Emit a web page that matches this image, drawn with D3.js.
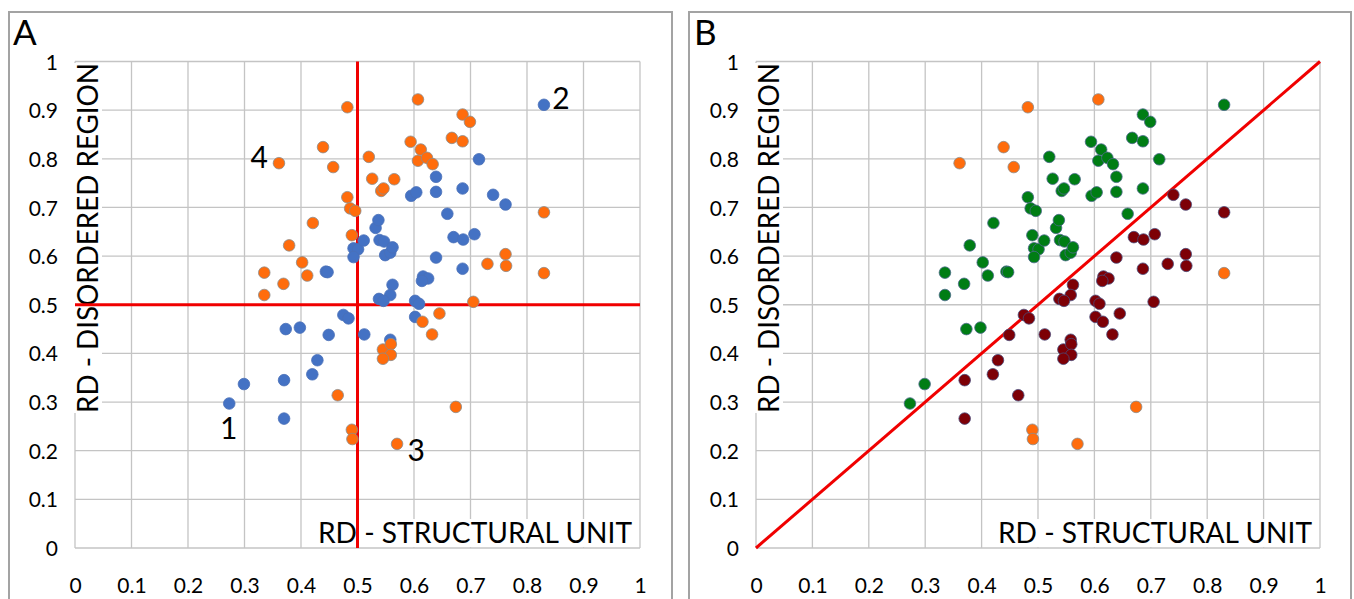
<!DOCTYPE html>
<html>
<head>
<meta charset="utf-8">
<script src="https://cdn.jsdelivr.net/npm/d3@7"></script>
<style>
  html, body { margin: 0; padding: 0; background: #fff; }
  svg { display: block; }
  text { font-family: Lato, "Open Sans", sans-serif; fill: #000; }
</style>
</head>
<body>
<svg id="chart" width="1354" height="599"></svg>
<script>
// ---------------- DATA ----------------
const xTicks = [0, 0.1, 0.2, 0.3, 0.4, 0.5, 0.6, 0.7, 0.8, 0.9, 1];
const yTicks = [0, 0.1, 0.2, 0.3, 0.4, 0.5, 0.6, 0.7, 0.8, 0.9, 1];
const xTickLabels = ["0", "0.1", "0.2", "0.3", "0.4", "0.5", "0.6", "0.7", "0.8", "0.9", "1"];
const yTickLabels = ["0", "0.1", "0.2", "0.3", "0.4", "0.5", "0.6", "0.7", "0.8", "0.9", "1"];

// RD - structural unit (x) and RD - disordered region (y)
const rdStructural = [
  0.273, 0.299, 0.370, 0.370, 0.373, 0.398, 0.420, 0.429, 0.444, 0.447,
  0.449, 0.475, 0.484, 0.493, 0.501, 0.493, 0.511, 0.512, 0.532, 0.537,
  0.539, 0.547, 0.549, 0.558, 0.562, 0.562, 0.558, 0.538, 0.546, 0.558,
  0.595, 0.604, 0.602, 0.609, 0.602, 0.616, 0.625, 0.614, 0.639, 0.639,
  0.639, 0.659, 0.670, 0.687, 0.707, 0.686, 0.686, 0.715, 0.740, 0.762,
  0.830,
  0.335, 0.335, 0.361, 0.369, 0.379, 0.402, 0.411, 0.421, 0.439, 0.457,
  0.465, 0.482, 0.482, 0.487, 0.496, 0.490, 0.490, 0.491, 0.520, 0.526,
  0.542, 0.546, 0.565, 0.545, 0.559, 0.559, 0.545, 0.570, 0.594, 0.607,
  0.607, 0.612, 0.623, 0.633, 0.615, 0.632, 0.645, 0.667, 0.686, 0.686,
  0.699, 0.674, 0.705, 0.730, 0.762, 0.763, 0.830, 0.830
];
const rdDisordered = [
  0.297, 0.337, 0.345, 0.266, 0.450, 0.453, 0.357, 0.386, 0.568, 0.567,
  0.438, 0.479, 0.472, 0.616, 0.614, 0.598, 0.632, 0.439, 0.658, 0.674,
  0.633, 0.630, 0.602, 0.607, 0.618, 0.541, 0.520, 0.512, 0.508, 0.428,
  0.724, 0.731, 0.508, 0.502, 0.475, 0.558, 0.554, 0.549, 0.597, 0.763,
  0.732, 0.687, 0.639, 0.634, 0.645, 0.739, 0.574, 0.799, 0.726, 0.706,
  0.911,
  0.566, 0.520, 0.791, 0.543, 0.622, 0.587, 0.560, 0.668, 0.824, 0.783,
  0.314, 0.906, 0.721, 0.698, 0.693, 0.643, 0.243, 0.224, 0.804, 0.759,
  0.734, 0.739, 0.758, 0.408, 0.419, 0.397, 0.389, 0.214, 0.835, 0.922,
  0.796, 0.819, 0.802, 0.789, 0.465, 0.439, 0.482, 0.843, 0.836, 0.891,
  0.876, 0.290, 0.506, 0.584, 0.604, 0.580, 0.690, 0.565
];
// Panel A grouping: "b" = blue series, "o" = orange series
const groupA = [
  "b","b","b","b","b","b","b","b","b","b","b","b","b","b","b","b","b","b","b","b",
  "b","b","b","b","b","b","b","b","b","b","b","b","b","b","b","b","b","b","b","b",
  "b","b","b","b","b","b","b","b","b","b","b",
  "o","o","o","o","o","o","o","o","o","o","o","o","o","o","o","o","o","o","o","o",
  "o","o","o","o","o","o","o","o","o","o","o","o","o","o","o","o","o","o","o","o",
  "o","o","o","o","o","o","o","o"
];
// Panel B grouping: "g" = green, "r" = dark red, "o" = orange
const groupB = [
  "g","g","r","r","g","g","r","r","g","g",
  "r","r","r","g","g","g","g","r","g","g",
  "g","g","g","g","g","r","r","r","r","r",
  "g","g","r","r","r","r","r","r","r","g",
  "g","g","r","r","r","g","r","g","r","r",
  "g",
  "g","g","o","g","g","g","g","g","o","o",
  "r","o","g","g","g","g","o","o","g","g",
  "g","g","g","r","r","r","r","o","g","o",
  "g","g","g","g","r","r","r","g","g","g",
  "g","o","r","r","r","r","r","o"
];
const panelLetters = ["A", "B"];
const xTitle = "RD - STRUCTURAL UNIT";
const yTitle = "RD - DISORDERED REGION";
// Numbered annotations in panel A (data coordinates of label centre)
const annoText = ["1", "2", "3", "4"];
const annoX = [0.272, 0.860, 0.604, 0.326];
const annoY = [0.246, 0.925, 0.201, 0.804];

// ---------------- DRAW ----------------
const svg = d3.select("#chart");
const colorsA = { b: "#4472c4", o: "#ff6c0c" };
const strokeA = { b: "#4a70b8", o: "#8c8c8c" };
const colorsB = { g: "#007d14", r: "#7d0006", o: "#ff6c0c" };
const strokeB = { g: "#4a6a8a", r: "#4a4a7a", o: "#8c8c8c" };

const panels = [
  { letter: panelLetters[0], box: [9, 12, 672, 620], x0: 75, x1: 640, letterX: 13 },
  { letter: panelLetters[1], box: [689, 12, 1351, 620], x0: 756, x1: 1320, letterX: 694 }
];
const yTop = 61.5, yBot = 548;

const idx = d3.range(rdStructural.length);

panels.forEach((p, pi) => {
  const g = svg.append("g");
  g.append("rect")
    .attr("x", p.box[0]).attr("y", p.box[1])
    .attr("width", p.box[2] - p.box[0]).attr("height", p.box[3] - p.box[1])
    .attr("fill", "#fff").attr("stroke", "#a3a3a3").attr("stroke-width", 2);

  const x = d3.scaleLinear().domain([0, 1]).range([p.x0, p.x1]);
  const y = d3.scaleLinear().domain([0, 1]).range([yBot, yTop]);

  // grid
  g.append("g").selectAll("line.v").data(xTicks).join("line")
    .attr("x1", d => x(d)).attr("x2", d => x(d))
    .attr("y1", yTop).attr("y2", yBot)
    .attr("stroke", "#c4c4c4").attr("stroke-width", 1.3);
  g.append("g").selectAll("line.h").data(yTicks).join("line")
    .attr("x1", p.x0).attr("x2", p.x1)
    .attr("y1", d => y(d)).attr("y2", d => y(d))
    .attr("stroke", "#c4c4c4").attr("stroke-width", 1.3);

  // axes (labels only)
  const xAxis = d3.axisBottom(x).tickValues(xTicks)
    .tickFormat((d, i) => xTickLabels[i]).tickSize(0).tickPadding(0);
  const xa = g.append("g").attr("transform", `translate(0,${yBot})`).call(xAxis);
  xa.select(".domain").remove();
  xa.selectAll("text").attr("y", 45).attr("dy", null)
    .style("font-size", "21px").style("font-family", "Lato, sans-serif").attr("fill", "#000");

  const yAxis = d3.axisLeft(y).tickValues(yTicks)
    .tickFormat((d, i) => yTickLabels[i]).tickSize(0).tickPadding(17);
  const ya = g.append("g").attr("transform", `translate(${p.x0},0)`).call(yAxis);
  ya.select(".domain").remove();
  ya.selectAll("text").attr("dy", "0.36em")
    .style("font-size", "21px").style("font-family", "Lato, sans-serif").attr("fill", "#000");

  // axis titles with white boxes
  const xt = g.append("text")
    .attr("x", p.x1 - 8).attr("y", 543)
    .attr("text-anchor", "end")
    .style("font-size", "28px")
    .attr("textLength", 314).attr("lengthAdjust", "spacingAndGlyphs")
    .text(xTitle);
  const yt = g.append("text")
    .attr("transform", `translate(${p.x0 + 23},238) rotate(-90)`)
    .attr("text-anchor", "middle")
    .style("font-size", "28px")
    .attr("textLength", 350).attr("lengthAdjust", "spacingAndGlyphs")
    .text(yTitle);
  [xt, yt].forEach(t => {
    const bb = t.node().getBBox();
    const tr = t.attr("transform");
    const r = g.insert("rect", function () { return t.node(); })
      .attr("x", bb.x).attr("y", bb.y + 4).attr("width", bb.width).attr("height", bb.height - 6)
      .attr("fill", "#fff");
    if (tr) r.attr("transform", tr);
  });

  // panel letter
  g.append("text").attr("x", p.letterX).attr("y", 45)
    .style("font-size", "35px").text(p.letter);

  // reference lines
  if (pi === 0) {
    g.append("line").attr("x1", x(0.5)).attr("x2", x(0.5)).attr("y1", y(0)).attr("y2", y(1))
      .attr("stroke", "#f00000").attr("stroke-width", 3);
    g.append("line").attr("x1", x(0)).attr("x2", x(1)).attr("y1", y(0.5)).attr("y2", y(0.5))
      .attr("stroke", "#f00000").attr("stroke-width", 3);
  } else {
    g.append("line").attr("x1", x(0)).attr("x2", x(1)).attr("y1", y(0)).attr("y2", y(1))
      .attr("stroke", "#f00000").attr("stroke-width", 3);
  }

  // points
  const order = pi === 0 ? ["b", "o"] : null;
  const grp = pi === 0 ? groupA : groupB;
  const cols = pi === 0 ? colorsA : colorsB;
  const strk = pi === 0 ? strokeA : strokeB;
  let sorted = idx.slice();
  if (order) sorted.sort((a, b) => order.indexOf(grp[a]) - order.indexOf(grp[b]) || a - b);
  g.append("g").selectAll("circle").data(sorted).join("circle")
    .attr("cx", i => x(rdStructural[i]))
    .attr("cy", i => y(rdDisordered[i]))
    .attr("r", 5.8)
    .attr("fill", i => cols[grp[i]])
    .attr("stroke", i => strk[grp[i]])
    .attr("stroke-width", 0.8);

  // annotations
  if (pi === 0) {
    g.append("g").selectAll("text").data(annoText).join("text")
      .attr("x", (d, i) => x(annoX[i]))
      .attr("y", (d, i) => y(annoY[i]))
      .attr("dy", "0.36em")
      .attr("text-anchor", "middle")
      .style("font-size", "30px")
      .text(d => d);
  }
});
</script>
</body>
</html>
